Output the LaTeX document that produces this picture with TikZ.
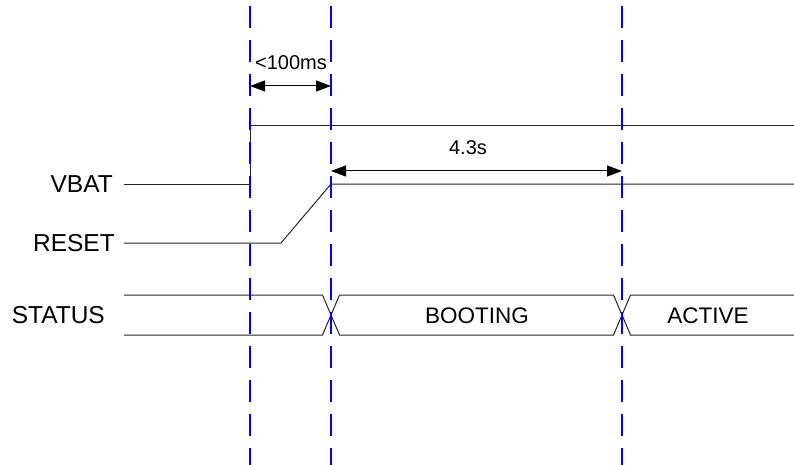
\documentclass[tikz,border=0pt]{standalone}
\usepackage{fontspec}
\setmainfont{Liberation Sans}
\usetikzlibrary{arrows.meta}
\tikzset{
  sig/.style={draw=black!85, line width=1pt},
  marker/.style={draw=blue, line width=1.4pt, dash pattern=on 22pt off 12pt},
  dimarrow/.style={draw=black, line width=1pt, {Triangle[length=15pt,width=11pt]}-{Triangle[length=15pt,width=11pt]}},
  signame/.style={anchor=east, inner sep=0pt, font=\fontsize{24.5}{28}\selectfont},
  statetext/.style={inner sep=0pt, font=\fontsize{22.5}{26}\selectfont},
  dimtext/.style={inner sep=0pt, font=\fontsize{20}{24}\selectfont}
}
\begin{document}
\begin{tikzpicture}[x=1pt, y=-1pt]
    \useasboundingbox (0,0) rectangle (794,465);
    % signal names
    \node[signame] (vbat) at (113,184) {VBAT};
    \node[signame] (reset) at (115,243) {RESET};
    \node[signame] (status) at (105,315) {STATUS};
    % VBAT
    \draw[sig] (124,184) -- (250,184) -- (250,126) -- (794,126);
    % RESET
    \draw[sig] (124,243) -- (281,243) -- (331,184) -- (794,184);
    % STATUS bus
    \draw[sig] (124,295) -- (322.5,295) -- (339.5,335) -- (613.5,335) -- (630.5,295) -- (794,295);
    \draw[sig] (124,335) -- (322.5,335) -- (339.5,295) -- (613.5,295) -- (630.5,335) -- (794,335);
    \node[statetext] (booting) at (477,316) {BOOTING};
    \node[statetext] (active) at (708,316) {ACTIVE};
    % time markers
    \foreach \x in {250,331,622}
        \draw[marker] (\x,6) -- (\x,465);
    % timings
    \coordinate (d1a) at (250,86);
    \coordinate (d1b) at (331,86);
    \draw[dimarrow] (d1a) -- (d1b);
    \node[dimtext] (t1) at (291,63) {<100ms};
    \coordinate (d2a) at (331,171);
    \coordinate (d2b) at (622,171);
    \draw[dimarrow] (d2a) -- (d2b);
    \node[dimtext] (t2) at (468,148) {4.3s};
\end{tikzpicture}
\end{document}
